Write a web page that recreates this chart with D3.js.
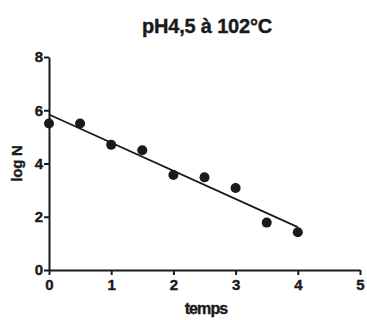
<!DOCTYPE html>
<html>
<head>
<meta charset="utf-8">
<script src="https://cdn.jsdelivr.net/npm/d3@7"></script>
<style>
  html, body { margin: 0; padding: 0; background: #fff; }
  svg { display: block; }
  text { font-family: "Liberation Sans", Arial, sans-serif; font-weight: bold; fill: #1a1a1a; }
</style>
</head>
<body>
<svg id="chart" width="367" height="320"></svg>
<script>
// Survival data: time (temps) vs log N
const temps = [0, 0.5, 1, 1.5, 2, 2.5, 3, 3.5, 4];
const logN = [5.5, 5.5, 4.7, 4.5, 3.57, 3.48, 3.08, 1.78, 1.42];
const xTicks = [0, 1, 2, 3, 4, 5];
const yTicks = [0, 2, 4, 6, 8];

const svg = d3.select("#chart");
const margin = { left: 49, right: 7, top: 57, bottom: 50 };
const W = 367, H = 320;

const x = d3.scaleLinear().domain([0, 5]).range([margin.left, W - margin.right]);
const y = d3.scaleLinear().domain([0, 8]).range([H - margin.bottom, margin.top]);

// Least-squares fit line over the data range
const mx = d3.mean(temps), my = d3.mean(logN);
const sxy = d3.sum(temps, (t, i) => (t - mx) * (logN[i] - my));
const sxx = d3.sum(temps, t => (t - mx) * (t - mx));
const slope = sxy / sxx;
const intercept = my - slope * mx;
const fitX = [d3.min(temps), d3.max(temps)];

// Axes
const fmt = d3.format("d");
const xAxis = d3.axisBottom(x).tickValues(xTicks).tickFormat(fmt).tickSize(5).tickSizeOuter(0).tickPadding(4);
const yAxis = d3.axisLeft(y).tickValues(yTicks).tickFormat(fmt).tickSize(5).tickSizeOuter(0).tickPadding(1);

const gx = svg.append("g").attr("transform", `translate(0,${y(0)})`).call(xAxis);
const gy = svg.append("g").attr("transform", `translate(${x(0)},0)`).call(yAxis);

[gx, gy].forEach(g => {
  g.attr("font-family", null).attr("font-size", null);
  g.select(".domain").attr("stroke", "#1a1a1a").attr("stroke-width", 2);
  g.selectAll(".tick line").attr("stroke", "#1a1a1a").attr("stroke-width", 2);
  g.selectAll(".tick text")
    .attr("font-family", "'Liberation Sans', Arial, sans-serif")
    .attr("font-weight", "bold")
    .attr("font-size", 15)
    .attr("fill", "#1a1a1a")
    .attr("stroke", "#1a1a1a")
    .attr("stroke-width", 0.4);
});
gx.selectAll(".tick text").attr("dy", "0.7em");

// Regression line
svg.append("line")
  .attr("x1", x(fitX[0])).attr("y1", y(intercept + slope * fitX[0]))
  .attr("x2", x(fitX[1])).attr("y2", y(intercept + slope * fitX[1]))
  .attr("stroke", "#1a1a1a").attr("stroke-width", 1.8);

// Data points
svg.append("g").selectAll("circle")
  .data(temps.map((t, i) => [t, logN[i]]))
  .join("circle")
  .attr("cx", d => x(d[0]))
  .attr("cy", d => y(d[1]))
  .attr("r", 5)
  .attr("fill", "#1a1a1a");

// Title
svg.append("text")
  .attr("x", 207).attr("y", 33)
  .attr("text-anchor", "middle")
  .attr("font-size", 20)
  .attr("letter-spacing", -0.2)
  .attr("stroke", "#1a1a1a").attr("stroke-width", 0.4)
  .text("pH4,5 à 102°C");

// Axis titles
svg.append("text")
  .attr("x", 206).attr("y", 314)
  .attr("text-anchor", "middle")
  .attr("font-size", 16)
  .attr("letter-spacing", -0.9)
  .attr("stroke", "#1a1a1a").attr("stroke-width", 0.4)
  .text("temps");

svg.append("text")
  .attr("transform", `translate(22,${y(4)}) rotate(-90)`)
  .attr("text-anchor", "middle")
  .attr("font-size", 15)
  .attr("letter-spacing", -0.3)
  .attr("stroke", "#1a1a1a").attr("stroke-width", 0.4)
  .text("log N");
</script>
</body>
</html>
